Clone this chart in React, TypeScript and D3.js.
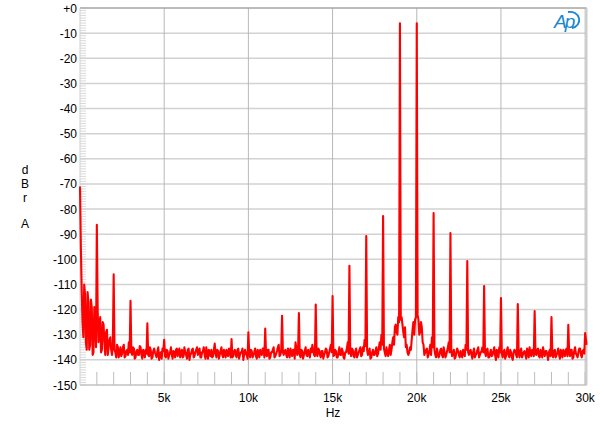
import React from 'react';
import * as d3 from 'd3';

// noise floor, one value every 100 Hz from 0 to 30 kHz (dB)
const floorDb = [
  -71, -112, -131, -114, -136, -117, -134, -119, -137, -121,
  -124, -133, -123, -136, -126, -138, -128, -135, -131, -138,
  -130, -137, -134, -139, -135, -137.5, -134, -138.5, -136, -133,
  -133, -138, -135.5, -139, -136, -138, -135, -139.5, -137, -136,
  -134, -138.5, -136, -139, -135.5, -138, -136.5, -140, -137, -135.5,
  -135, -139, -136.5, -138, -135, -139.5, -137, -136, -138.5, -135.5,
  -137, -139, -135, -138, -136, -140, -137.5, -135.5, -138.5, -136,
  -138, -135.5, -139, -136.5, -138, -135, -139.5, -137, -136, -138.5,
  -136, -139, -136.5, -138, -135, -139, -137, -136, -138.5, -136,
  -136, -138.5, -136, -139, -135.5, -138, -137, -140, -136, -138,
  -135, -139, -136.5, -138, -135.5, -139.5, -137, -136, -138, -135.5,
  -136, -138.5, -136, -139, -137, -135, -138.5, -136.5, -134, -138,
  -135, -138, -136, -139, -137, -135.5, -138.5, -136, -133, -138,
  -135, -139, -136.5, -138, -135, -138.5, -137, -135.5, -134, -138,
  -134, -138.5, -136, -139, -136.5, -138, -135.5, -139, -137, -134,
  -134, -138, -136.5, -139, -135, -138, -136.5, -139.5, -137, -133,
  -133, -138.5, -136, -139, -135.5, -138, -136, -138.5, -135, -132,
  -132, -138, -135.5, -139, -136, -138, -135, -137.5, -133, -130,
  -131, -137, -135, -138.5, -134, -136, -131, -127, -129, -123,
  -120, -123, -129, -127, -134, -138, -135, -132, -125, -124,
  -120, -124, -129, -127, -134, -137, -135.5, -138, -134, -131,
  -131, -138, -135.5, -139, -136, -138, -135, -139, -136.5, -133,
  -133, -138.5, -136, -139, -135.5, -138, -136.5, -139, -137, -134,
  -134, -138, -136, -139.5, -135.5, -138, -136, -139, -137, -135,
  -134, -138.5, -135.5, -139, -136, -138, -135, -140, -136.5, -135,
  -135, -139, -136, -138.5, -135, -139, -137, -140, -136, -138,
  -136, -139, -135.5, -138, -136.5, -139.5, -137, -135, -138.5, -136,
  -136, -138, -135.5, -139, -137, -135, -138.5, -136.5, -140, -136,
  -136, -139, -136, -138, -135.5, -139.5, -137, -136, -138.5, -135.5,
  -136, -138.5, -136, -139, -135, -138, -137, -135.5, -139, -136,
  -137,
];
// the values in between, at 50 Hz, 150 Hz, ... 29950 Hz
const midDb = [
  -95, -125, -110, -133, -113, -136, -116, -138, -119, -135,
  -120, -127, -137, -125, -133, -129, -138, -132, -136, -134,
  -136, -139, -135, -137, -138.5, -135, -139, -136.5, -138, -137,
  -137, -135, -139.5, -136.5, -138, -134.5, -138, -136, -139, -137.5,
  -138, -135, -139.5, -136.5, -137, -139, -135, -138, -139.5, -136.5,
  -138.5, -136, -139.5, -137, -138, -136.5, -139, -135.5, -137, -139,
  -136, -138.5, -137, -139.5, -135.5, -138, -136, -139, -137, -135,
  -136.5, -139, -137, -135, -139.5, -137.5, -136, -138.5, -139, -136,
  -137.5, -136, -139.5, -136.5, -138, -136, -139, -137.5, -135.5, -139,
  -139, -136.5, -138, -136, -139.5, -137, -135.5, -138, -137.5, -139.5,
  -137.5, -136, -139, -137, -138.5, -136, -139, -137.5, -135.5, -139,
  -138, -136, -139.5, -137, -136, -139, -137.5, -135, -138.5, -136.5,
  -137, -136.5, -138, -135.5, -139, -137, -136, -139.5, -135.5, -137,
  -138, -136, -139.5, -136.5, -138, -136, -139, -137, -136.5, -138.5,
  -137.5, -135.5, -138, -136.5, -139.5, -137, -136, -138.5, -135.5, -137,
  -138.5, -136, -139, -137, -138, -135.5, -139, -137, -135.5, -137.5,
  -137, -135.5, -138.5, -136.5, -139, -137, -135, -138, -136.5, -134.5,
  -136, -137, -139.5, -137, -138, -136.5, -138.5, -135, -136, -134,
  -135.5, -138.5, -137, -136, -138, -133, -134, -126, -130, -125,
  -124, -126, -131, -135, -137, -137, -136, -128, -130, -123,
  -122, -130, -125, -133, -138, -136, -139, -136.5, -138, -135,
  -136, -139, -137.5, -138, -135.5, -139, -137, -138, -135, -137,
  -136.5, -137, -139.5, -137, -136.5, -139, -137.5, -136, -138.5, -136,
  -137, -136.5, -138, -137, -139, -137.5, -135, -138, -136.5, -137,
  -137, -136, -139, -137.5, -138.5, -136.5, -138, -136, -139, -137,
  -137.5, -137, -139.5, -136.5, -138, -136, -139, -137, -136.5, -139,
  -137, -136.5, -139, -137, -138, -135.5, -139, -137.5, -136, -138.5,
  -137.5, -136, -138.5, -136, -139, -137, -136.5, -138, -137, -138.5,
  -137.5, -136.5, -139, -137, -138, -136, -139, -137.5, -136, -138.5,
  -137, -136, -139.5, -136.5, -137.5, -139, -135.5, -138, -136.5, -137.5,
];
const floorStep = 100;
const lastPoint = { hz: 30080, db: -134 };

// tones, harmonics and intermodulation products
const spikeHz = [
  1000, 2000, 3000, 4000, 5000, 8000, 9000, 10000, 11000, 12000, 13000, 14000,
  15000, 16000, 17000, 18000, 19000, 20000, 21000, 22000, 23000, 24000, 25000,
  26000, 27000, 28000, 29000, 30000,
];
const spikeDb = [
  -86.3, -106, -116.5, -125.5, -132, -133.5, -131.7, -129, -127.5, -122.5, -121.4, -118,
  -114.6, -102.6, -90.7, -82.8, -6.1, -6.1, -81.6, -89.5, -100.7, -110.6, -115.4,
  -117.8, -120.6, -123, -126, -129.3,
];

const yTicks = [0, -10, -20, -30, -40, -50, -60, -70, -80, -90, -100, -110, -120, -130, -140, -150];
const xTicks = [5000, 10000, 15000, 20000, 25000, 30000];
const xTickLabels = ['5k', '10k', '15k', '20k', '25k', '30k'];

const W = 600;
const H = 427;
const left = 80;
const right = 586.5;
const top = 8;
const bottom = 385;
const font = '"Liberation Sans", Arial, sans-serif';

export default function App() {
  const x = d3.scaleLinear().domain([0, 30080]).range([left, right]);
  const y = d3.scaleLinear().domain([-150, 0]).range([bottom, top]);

  const floorPts = floorDb.map((db, i) => ({ hz: i * floorStep, db }));
  spikeHz.forEach((hz, i) => {
    floorPts[Math.round(hz / floorStep)] = { hz, db: spikeDb[i] };
  });
  const points: { hz: number; db: number }[] = [];
  floorPts.forEach((p, i) => {
    points.push(p);
    if (i < midDb.length) points.push({ hz: p.hz + floorStep / 2, db: midDb[i] });
  });
  points.push(lastPoint);

  const line = d3
    .line<{ hz: number; db: number }>()
    .x((d) => x(d.hz))
    .y((d) => y(d.db));

  const minorDb = d3.range(-150, 1, 1);
  const minorHz = d3.range(1000, 30001, 1000);

  return (
    <svg width={W} height={H} style={{ position: 'absolute', left: 0, top: 0, background: '#fff' }}>
      {/* horizontal grid */}
      {yTicks.map((t) => (
        <line key={'h' + t} x1={left} x2={right} y1={y(t)} y2={y(t)} stroke="#d2d2d2" strokeWidth={1.5} />
      ))}
      {/* vertical grid */}
      {xTicks.map((t) => (
        <line key={'v' + t} x1={x(t)} x2={x(t)} y1={top} y2={bottom} stroke="#b8b8b8" strokeWidth={1} />
      ))}
      {/* minor ticks */}
      {minorDb.map((t) => (
        <line key={'md' + t} x1={left} x2={left + 6} y1={y(t)} y2={y(t)} stroke="#cfcfcf" strokeWidth={0.8} />
      ))}
      {minorHz.map((t) => (
        <line key={'mh' + t} x1={x(t)} x2={x(t)} y1={bottom - 13} y2={bottom} stroke="#bdbdbd" strokeWidth={1} />
      ))}
      {/* frame */}
      <line x1={left} x2={right} y1={top} y2={top} stroke="#9a9a9a" strokeWidth={1} />
      <line x1={left} x2={right} y1={bottom} y2={bottom} stroke="#c4c4c4" strokeWidth={1} />
      <line x1={left} x2={left} y1={top} y2={bottom} stroke="#cfcfcf" strokeWidth={1} />
      <line x1={right} x2={right} y1={top} y2={bottom} stroke="#cccccc" strokeWidth={2} />

      {/* trace */}
      <path d={line(points) ?? ''} fill="none" stroke="#ff0000" strokeWidth={2.1} strokeLinejoin="round" />

      {/* y labels */}
      {yTicks.map((t) => (
        <text key={'yl' + t} x={77} y={y(t) + 4.5} textAnchor="end" fontFamily={font} fontSize={12} fill="#000">
          {t === 0 ? '+0' : String(t)}
        </text>
      ))}
      {/* x labels */}
      {xTicks.map((t, i) => (
        <text key={'xl' + t} x={x(t)} y={402} textAnchor="middle" fontFamily={font} fontSize={12} fill="#000">
          {xTickLabels[i]}
        </text>
      ))}
      <text x={333} y={417} textAnchor="middle" fontFamily={font} fontSize={12} fill="#000">Hz</text>
      {['d', 'B', 'r'].map((c, i) => (
        <text key={c} x={25} y={174 + i * 14} textAnchor="middle" fontFamily={font} fontSize={12} fill="#000">{c}</text>
      ))}
      <text x={25} y={228} textAnchor="middle" fontFamily={font} fontSize={12} fill="#000">A</text>

      {/* Ap logo */}
      <g>
        <text x={554} y={28} fontFamily={font} fontSize={19} fontStyle="italic" fill="#1a86cf" letterSpacing={-2}>Ap</text>
        <path d="M568,12 A9,8 0 0 1 572,28" fill="none" stroke="#1a86cf" strokeWidth={1.8} />
      </g>
    </svg>
  );
}
